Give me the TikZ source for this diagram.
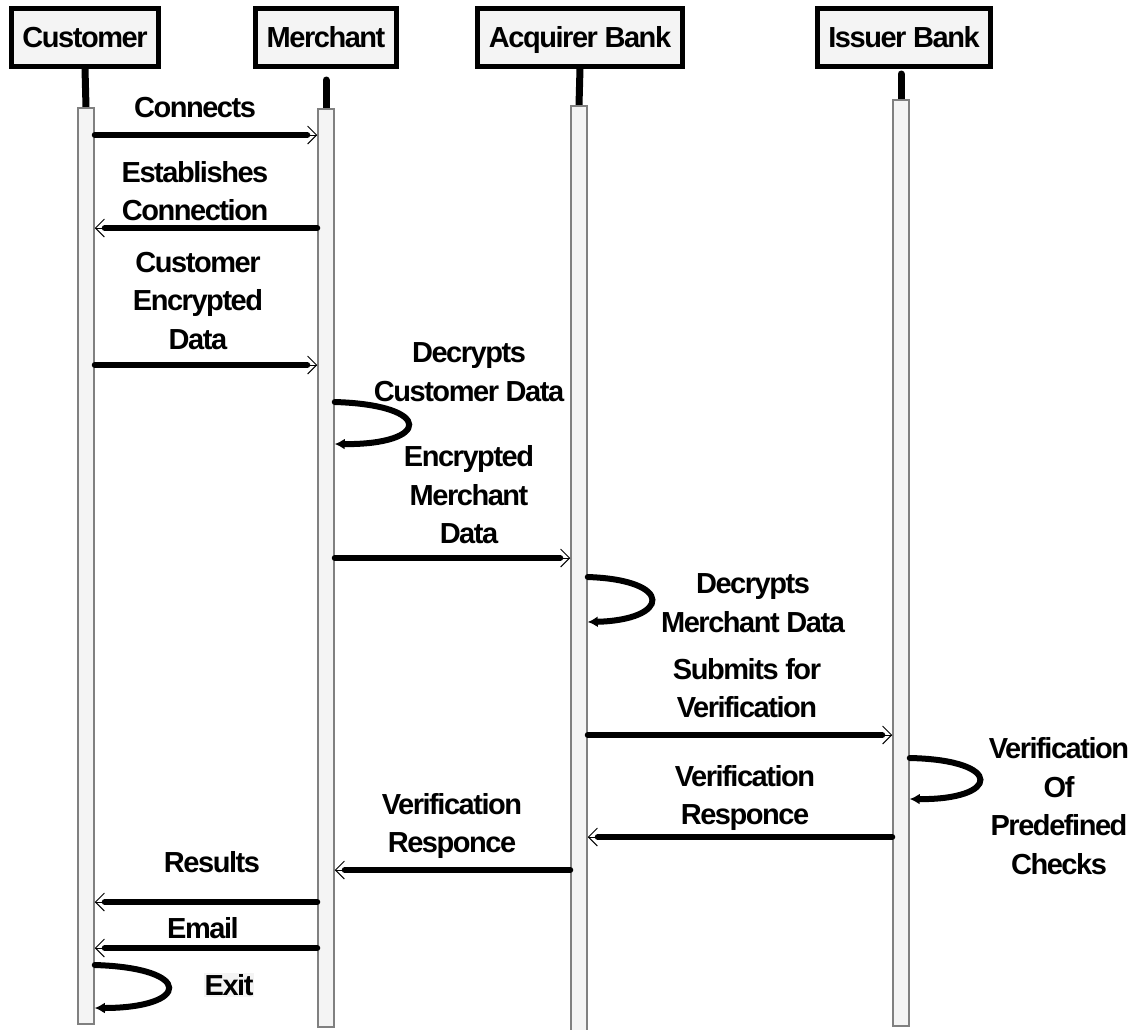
\documentclass[tikz,border=0pt]{standalone}
\usepackage{fontspec}
\setmainfont[LetterSpace=-5]{Liberation Sans}
\usetikzlibrary{arrows.meta}
\definecolor{boxgray}{HTML}{F4F4F4}
\definecolor{bargray}{HTML}{808080}
\newcommand{\lblfont}{\fontsize{29}{38.5}\selectfont\bfseries}
\tikzset{
  head/.style={draw, line width=5pt, fill=boxgray, inner xsep=11pt, inner ysep=0pt,
    text height=23pt, text depth=3pt, minimum height=58pt, font=\lblfont},
  bar/.style={draw=bargray, line width=1.5pt, fill=boxgray, minimum width=16pt, anchor=north, inner sep=0pt},
  stem/.style={line width=7pt, line cap=round},
  msg/.style={line width=6pt, line cap=round, shorten >=10pt,
    postaction={draw, line width=0.9pt, shorten >=0pt, -{Straight Barb[length=9pt,width=18pt]}}},
  self/.style={line width=6pt, line cap=round, -{Latex[length=10pt,width=11pt]}},
  lbl/.style={font=\lblfont, align=center, inner sep=1pt}
}

\begin{document}
\begin{tikzpicture}[x=1pt, y=-1pt]
    \useasboundingbox (0,0) rectangle (1138,1029);
    \node[head] (cust) at (85,37) {Customer};
    \node[head] (merch) at (326,37) {Merchant};
    \node[head] (acq) at (580,37) {Acquirer Bank};
    \node[head] (iss) at (904,37) {Issuer Bank};
    \coordinate (mtop) at (326,80);
    \coordinate (itop) at (901,74);
    \draw[stem] (cust.south) -- (86,107);
    \draw[stem] (mtop) -- (326,108);
    \draw[stem] (acq.south) -- (579,105);
    \draw[stem] (itop) -- (901,99);
    \node[bar, minimum height=916pt] (custbar) at (86,107) {};
    \node[bar, minimum height=918pt] (merchbar) at (326,108) {};
    \node[bar, minimum height=935pt] (acqbar) at (579,105) {};
    \node[bar, minimum height=926pt] (issbar) at (901,99) {};

    \node[lbl] (lconn) at (195,108) {Connects};
    \draw[msg] (custbar.east |- 0,135) -- (merchbar.west |- 0,135);
    \node[lbl] (lest) at (195,191) {Establishes\\Connection};
    \draw[msg] (merchbar.west |- 0,228) -- (custbar.east |- 0,228);
    \node[lbl] (lcustdata) at (198,301) {Customer\\Encrypted\\Data};
    \draw[msg] (custbar.east |- 0,365) -- (merchbar.west |- 0,365);
    \node[lbl] (ldecc) at (469,372) {Decrypts\\Customer Data};
    \draw[self] (merchbar.east |- 0,402) .. controls (435,405) and (430,445) .. (merchbar.east |- 0,444);
    \node[lbl] (lencm) at (469,495) {Encrypted\\Merchant\\Data};
    \draw[msg] (merchbar.east |- 0,558) -- (acqbar.west |- 0,558);
    \node[lbl] (ldecm) at (753,603) {Decrypts\\Merchant Data};
    \draw[self] (acqbar.east |- 0,577) .. controls (675,580) and (670,620) .. (acqbar.east |- 0,622);
    \node[lbl] (lsubmit) at (747,688) {Submits for\\Verification};
    \draw[msg] (acqbar.east |- 0,735) -- (issbar.west |- 0,735);
    \node[lbl] (lcheck) at (1059,806) {Verification\\Of\\Predefined\\Checks};
    \draw[self] (issbar.east |- 0,758) .. controls (1005,760) and (1000,800) .. (issbar.east |- 0,799);
    \node[lbl] (lresp1) at (745,798) {Verification\\Responce};
    \draw[msg] (issbar.west |- 0,837) -- (acqbar.east |- 0,837);
    \node[lbl] (lresp2) at (452,826) {Verification\\Responce};
    \draw[msg] (acqbar.west |- 0,870) -- (merchbar.east |- 0,870);
    \node[lbl] (lres) at (212,862) {Results};
    \draw[msg] (merchbar.west |- 0,902) -- (custbar.east |- 0,902);
    \node[lbl] (lemail) at (203,928) {Email};
    \draw[msg] (merchbar.west |- 0,948) -- (custbar.east |- 0,948);
    \node[lbl, fill=boxgray] (lexit) at (229,985) {Exit};
    \draw[self] (custbar.east |- 0,965) .. controls (195,968) and (190,1008) .. (custbar.east |- 0,1008);
\end{tikzpicture}
\end{document}
